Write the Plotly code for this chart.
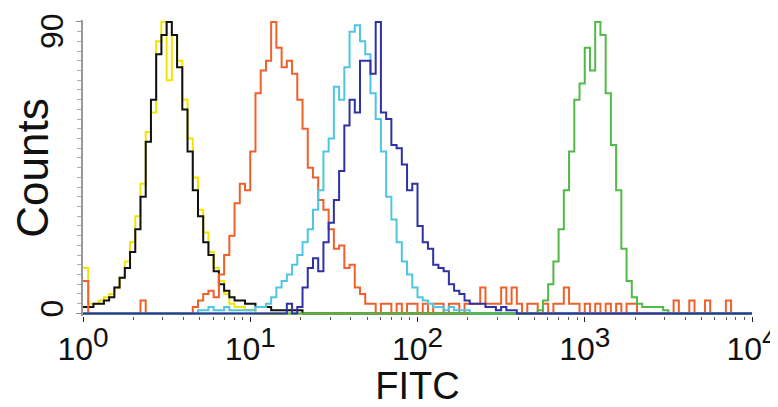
import numpy as np
import plotly.graph_objects as go

# Channel grid: 32 channels per decade over 10^0 .. 10^4 (128 channels)
CHANNELS_PER_DECADE = 32
N_CHANNELS = 128

yellow = [14, 3, 3, 4, 5, 6, 8, 11, 16, 22, 30, 40, 56, 62, 84, 90, 72, 86, 78, 66,
          54, 42, 32, 25, 19, 14, 10, 6, 3, 2, 2, 1, 1]

black = [2, 2, 3, 3, 4, 5, 8, 11, 14, 19, 26, 36, 53, 66, 80, 86, 90, 86, 76, 63,
         50, 38, 30, 22, 18, 13, 9, 7, 5, 4, 4, 3, 3, 2, 2, 2, 1, 1, 1, 1,
         1, 1]

orange = [10, 0, 0, 0, 0, 0, 0, 0, 0, 0, 0, 4, 0, 0, 0, 0, 0, 0, 0, 0,
          0, 2, 4, 6, 7, 5, 12, 18, 24, 34, 40, 38, 50, 68, 75, 78, 90, 82, 76, 78,
          74, 66, 57, 45, 42, 35, 32, 26, 20, 21, 14, 15, 8, 6, 3, 3, 0, 3, 3, 0,
          3, 0, 3, 3, 0, 3, 0, 3, 3, 0, 3, 3, 0, 3, 3, 3, 8, 3, 3, 3,
          8, 3, 8, 3, 0, 3, 3, 0, 3, 0, 3, 3, 8, 3, 3, 0, 3, 0, 3, 0,
          3, 0, 3, 0, 3, 3, 0, 0, 0, 0, 0, 0, 0, 4, 0, 0, 4, 0, 0, 4,
          0, 0, 0, 4, 0, 0, 0, 0]

cyan = [0] * 22 + [1, 1, 2, 1, 1, 2, 1, 1, 1, 1, 1, 2, 2, 3, 5, 8, 10, 12, 15, 18,
                   22, 26, 32, 38, 50, 54, 70, 66, 76, 87, 89, 84, 80, 68, 60, 50, 36, 29,
                   22, 16, 12, 8, 5, 4, 3, 2, 2, 1, 2, 1, 1, 1]

darkblue = [0] * 39 + [3, 0, 2, 8, 14, 17, 13, 22, 28, 35, 44, 58, 66, 62, 78, 78, 74,
                       90, 62, 60, 52, 51, 46, 38, 40, 27, 22, 20, 15, 14, 13, 9, 7, 6,
                       4, 3, 3, 3, 2, 2, 1, 2, 1, 1]

green = [0] * 87 + [1, 4, 9, 16, 26, 38, 50, 66, 71, 82, 75, 90, 86, 68, 52, 38, 20,
                    10, 5, 3, 2, 2, 2, 2, 1]

series = [
    ("yellow", yellow, "#f2e400"),
    ("black", black, "#111111"),
    ("orange", orange, "#f0602a"),
    ("cyan", cyan, "#4ec6e0"),
    ("green", green, "#52b848"),
    ("darkblue", darkblue, "#2e32a6"),
]

x_tick_vals = [1, 10, 100, 1000, 10000]
x_tick_text = ["10<sup><span style='font-size:28px'>%d</span></sup>" % k for k in range(5)]
y_tick_vals = [0, 90]
y_tick_text = ["0", "90"]
y_label_shift = [5, -9]  # label offsets along the axis, px

edges = 10 ** (np.arange(N_CHANNELS + 1) / CHANNELS_PER_DECADE)

fig = go.Figure()
for name, vals, color in series:
    v = list(vals) + [0] * (N_CHANNELS - len(vals))
    v = v + [v[-1]]
    fig.add_trace(go.Scatter(x=edges, y=v, mode="lines", line_shape="hv",
                             line=dict(color=color, width=2), name=name,
                             hoverinfo="skip"))

# y tick labels as rotated text next to their tick values
for val, txt, sh in zip(y_tick_vals, y_tick_text, y_label_shift):
    fig.add_annotation(xref="paper", x=0, xanchor="center", xshift=-31,
                       yref="y", y=val, yanchor="middle", yshift=sh,
                       text=txt, textangle=-90, showarrow=False,
                       font=dict(size=32, color="#111111"))

# page body has an 8px default margin, so the figure is sized to fit the window
fig.update_layout(
    width=770, height=399,
    margin=dict(l=75, r=26, t=12, b=91),
    paper_bgcolor="white", plot_bgcolor="white",
    showlegend=False,
    font=dict(family="Liberation Sans, Arial, sans-serif", color="#111111"),
)
fig.update_xaxes(
    type="log", range=[0, 4], automargin=False,
    tickvals=x_tick_vals, ticktext=x_tick_text,
    tickfont=dict(size=32, color="#111111"),
    ticks="outside", ticklen=5, tickcolor="#222222", tickwidth=1,
    minor=dict(dtick="D1", ticks="outside", ticklen=3, tickcolor="#555555"),
    showline=False, showgrid=False, zeroline=False,
    title=dict(text="FITC", font=dict(size=38, color="#111111"), standoff=6),
)
fig.update_yaxes(
    range=[-0.8, 90.6], automargin=False,
    tickvals=y_tick_vals, showticklabels=False,
    ticks="outside", ticklen=5, tickcolor="#888888",
    minor=dict(dtick=3, tick0=0, ticks="outside", ticklen=4, tickcolor="#aaaaaa"),
    showline=True, linecolor="#999999", linewidth=1.5,
    showgrid=False, zeroline=False,
    title=dict(text="Counts", font=dict(size=44, color="#111111"), standoff=40),
)
fig.write_html("out.html")
